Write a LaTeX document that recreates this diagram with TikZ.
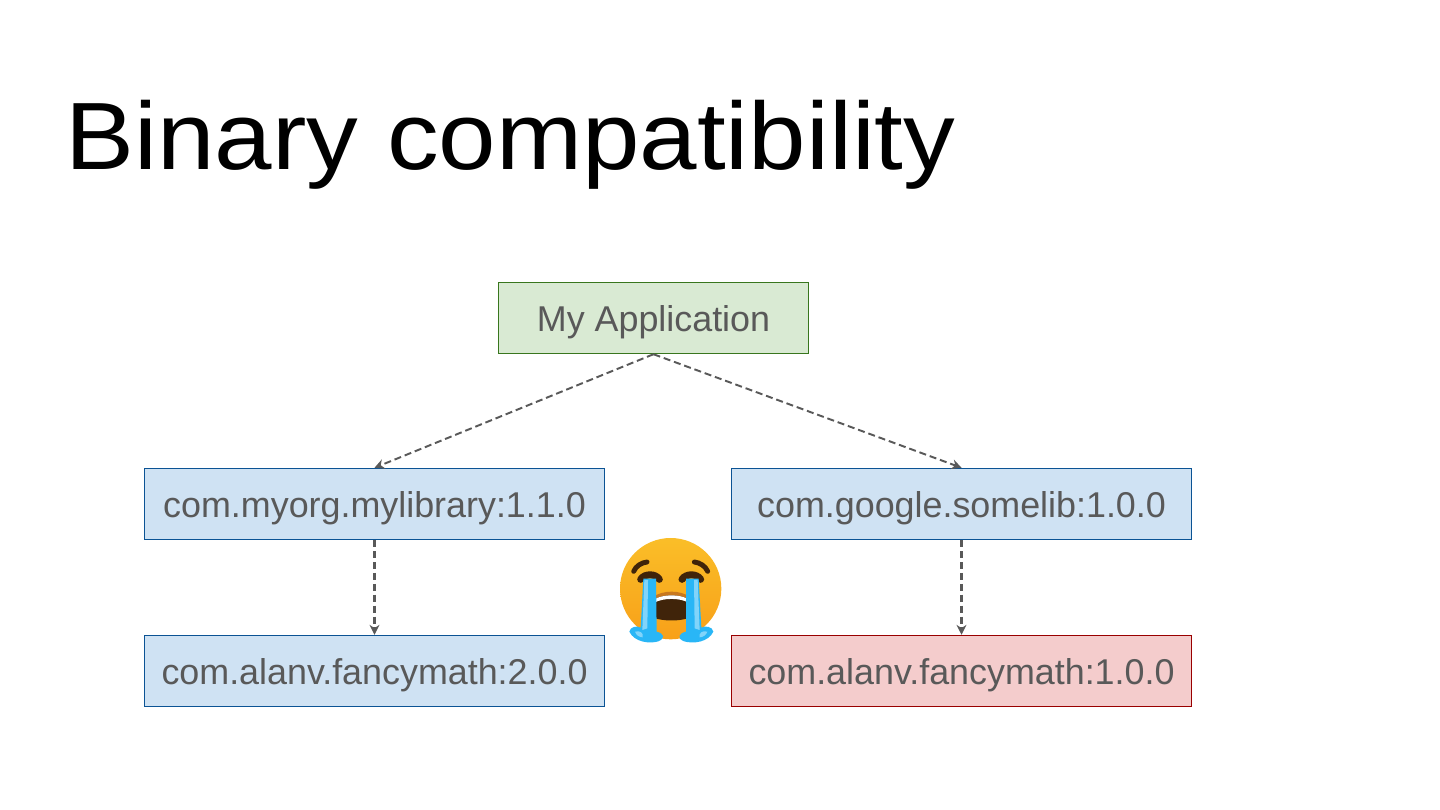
\documentclass[tikz,border=0pt]{standalone}
\usepackage{fontspec}
\setmainfont{Liberation Sans}
\newfontfamily\titlefont[FakeStretch=1.08]{Liberation Sans}
\usetikzlibrary{arrows.meta}
\definecolor{textgray}{RGB}{89,89,89}
\definecolor{appfill}{RGB}{217,234,211}
\definecolor{appline}{RGB}{56,118,29}
\definecolor{libfill}{RGB}{207,226,243}
\definecolor{libline}{RGB}{11,83,148}
\definecolor{badfill}{RGB}{244,204,204}
\definecolor{badline}{RGB}{153,0,0}
\definecolor{tearblue}{RGB}{41,182,246}
\definecolor{tearlight}{RGB}{129,212,250}
\definecolor{mouthbrown}{RGB}{64,36,10}
\definecolor{lipbrown}{RGB}{200,120,30}
\definecolor{facetop}{RGB}{250,190,40}
\definecolor{facemid}{RGB}{253,200,45}
\definecolor{facelow}{RGB}{248,160,25}
\tikzset{
  depbox/.style={draw=libline, fill=libfill, line width=0.4pt, text=textgray,
    minimum width=4.6cm, minimum height=0.71cm, inner sep=0pt, text height=0.26cm, text depth=0pt,
    font=\fontsize{10.2}{12}\selectfont},
  appbox/.style={depbox, draw=appline, fill=appfill, minimum width=3.1cm},
  badbox/.style={depbox, draw=badline, fill=badfill},
  deplink/.style={draw=textgray, line width=0.55pt, dash pattern=on 2pt off 1.1pt, -{Stealth[length=2.8pt,width=2.8pt]}},
  downlink/.style={deplink, line width=0.65pt}
}
\begin{document}
\begin{tikzpicture}[x=0.01cm,y=-0.01cm]
  \useasboundingbox (0,0) rectangle (1440,810);
  % Title
  \node[anchor=base west, inner sep=0pt, font=\titlefont\fontsize{27.2}{30}\selectfont] (title) at (65,170) {Binary compatibility};
  % Boxes
  \node[appbox] (app) at (653.5,318) {My Application};
  \node[depbox] (mylib) at (374.5,504) {com.myorg.mylibrary:1.1.0};
  \node[depbox] (somelib) at (961.5,504) {com.google.somelib:1.0.0};
  \node[depbox] (math2) at (374.5,671) {com.alanv.fancymath:2.0.0};
  \node[badbox] (math1) at (961.5,671) {com.alanv.fancymath:1.0.0};
  % Links
  \draw[deplink] (app.south) -- (mylib.north);
  \draw[deplink] (app.south) -- (somelib.north);
  \draw[downlink] (mylib.south) -- (math2.north);
  \draw[downlink] (somelib.south) -- (math1.north);
  % Crying face
  \begin{scope}[shift={(600,530)},scale=1/3]
    \shade[top color=facetop, middle color=facemid, bottom color=facelow] (212,176) circle (152);
    % brows
    \draw[mouthbrown, line width=1.4pt, line cap=round] (101,124) .. controls (108,108) and (124,98) .. (141,96);
    \draw[mouthbrown, line width=1.4pt, line cap=round] (323,124) .. controls (316,108) and (300,98) .. (283,96);
    % eyes
    \draw[mouthbrown, line width=2pt, line cap=round] (122,148) .. controls (134,130) and (166,130) .. (178,148);
    \draw[mouthbrown, line width=2pt, line cap=round] (246,148) .. controls (258,130) and (290,130) .. (302,148);
    % mouth
    \fill[lipbrown] (160,200) .. controls (190,180) and (240,180) .. (268,200) -- (268,212) -- (160,212) -- cycle;
    \fill[mouthbrown] (163,208) .. controls (190,192) and (240,192) .. (265,208) -- (265,264) .. controls (240,274) and (190,274) .. (163,264) -- cycle;
    \fill[white] (163,218) .. controls (190,203) and (240,203) .. (265,218) -- (265,208) .. controls (240,192) and (190,192) .. (163,208) -- cycle;
    % tears
    \fill[tearblue] (130,146) -- (168,146) -- (170,305) .. controls (192,310) and (197,325) .. (175,334) .. controls (150,342) and (103,337) .. (88,305) .. controls (90,290) and (112,286) .. (122,293) -- cycle;
    \fill[tearblue] (258,146) -- (296,146) -- (304,293) .. controls (316,286) and (338,290) .. (340,305) .. controls (325,337) and (280,342) .. (252,334) .. controls (230,325) and (236,310) .. (258,305) -- cycle;
    \fill[tearlight] (133,150) -- (144,150) -- (142,295) -- (127,300) -- cycle;
    \fill[tearlight] (282,150) -- (293,150) -- (299,300) -- (284,295) -- cycle;
    \fill[tearlight] (105,305) .. controls (120,300) and (132,310) .. (128,322) .. controls (118,322) and (108,315) .. (105,305) -- cycle;
    \fill[tearlight] (322,305) .. controls (307,300) and (295,310) .. (299,322) .. controls (309,322) and (319,315) .. (322,305) -- cycle;
  \end{scope}
\end{tikzpicture}
\end{document}
